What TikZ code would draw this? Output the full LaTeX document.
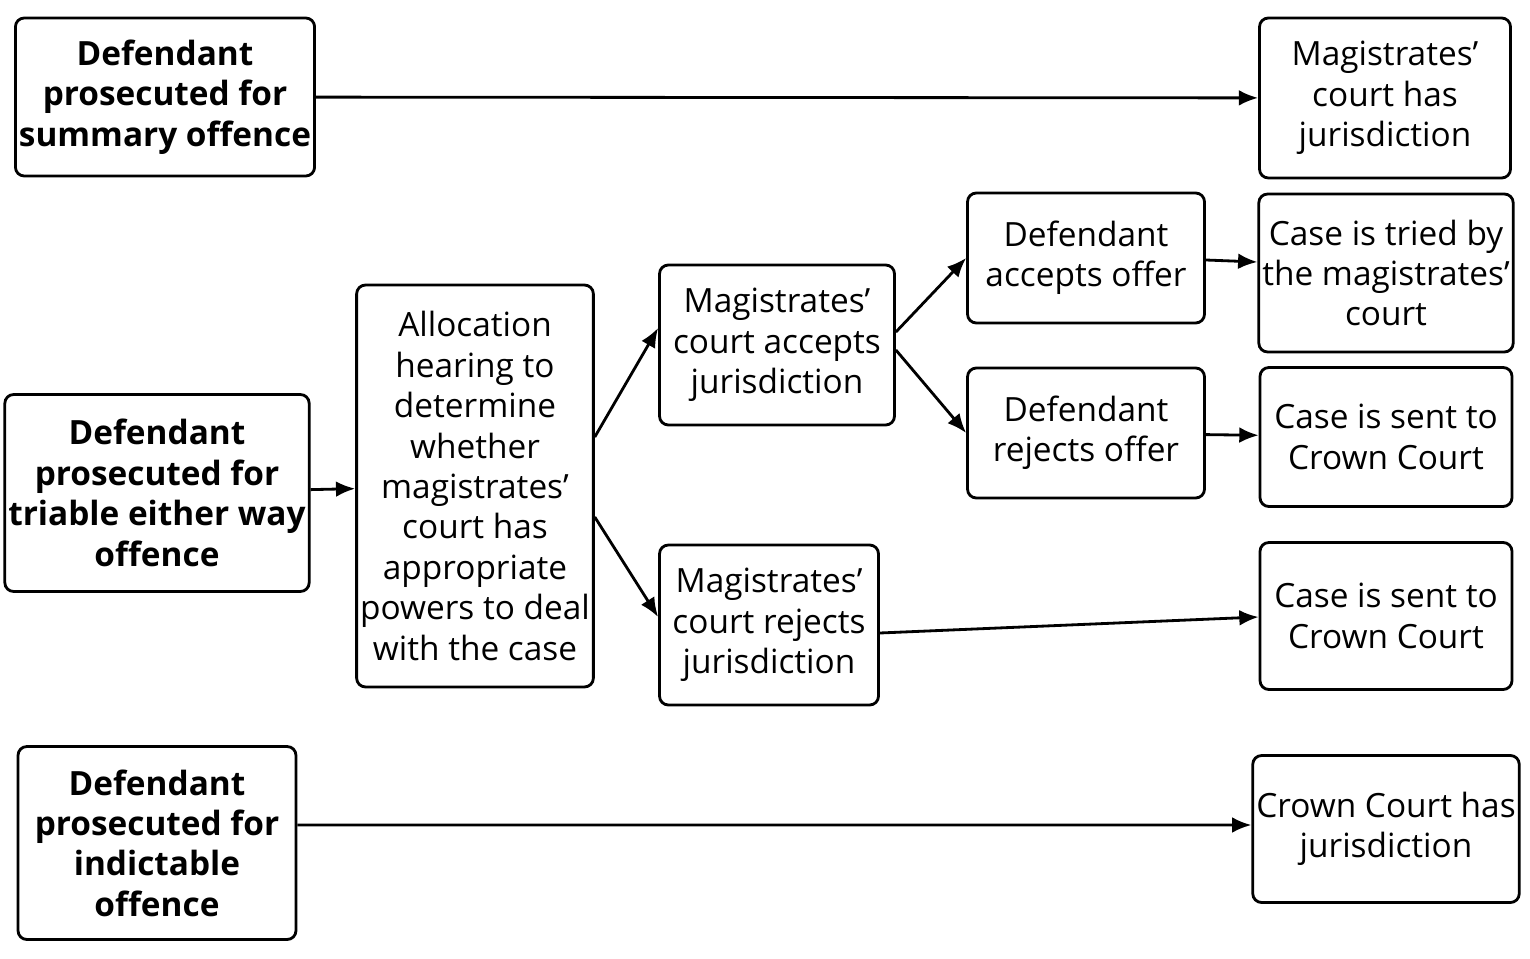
\documentclass[tikz,border=0pt]{standalone}
\usepackage{fontspec}
\setmainfont{Open Sans}
\usetikzlibrary{arrows.meta}
\tikzset{
  stagebox/.style={draw, line width=1.6pt, rounded corners=5pt, align=center,
    font=\fontsize{19}{23}\selectfont, inner sep=2pt},
  startbox/.style={stagebox, font=\fontsize{19}{23}\selectfont\bfseries},
  flow/.style={-{Latex[length=11pt,width=9pt]}, line width=1.6pt}
}
\begin{document}
\begin{tikzpicture}[x=0.02cm, y=-0.02cm]
  \useasboundingbox (0,0) rectangle (1530,959);
  % left column
  \node (summ) at (165,97) [startbox, minimum width=5.88cm, minimum height=3.16cm] {Defendant\\prosecuted for\\summary offence};
  \node (either) at (157,493) [startbox, minimum width=5.56cm, minimum height=3.94cm] {Defendant\\prosecuted for\\triable either way\\offence};
  \node (indict) at (157,843) [startbox, minimum width=5.56cm, minimum height=3.86cm] {Defendant\\prosecuted for\\indictable\\offence};
  % middle
  \node (alloc) at (475,486) [stagebox, minimum width=4.64cm, minimum height=8.04cm] {Allocation\\hearing to\\determine\\whether\\magistrates’\\court has\\appropriate\\powers to deal\\with the case};
  \node (accept) at (777,345) [stagebox, minimum width=4.7cm, minimum height=3.2cm] {Magistrates’\\court accepts\\jurisdiction};
  \node (reject) at (769,625) [stagebox, minimum width=4.38cm, minimum height=3.2cm] {Magistrates’\\court rejects\\jurisdiction};
  \node (daccept) at (1086,258) [stagebox, minimum width=4.74cm, minimum height=2.6cm] {Defendant\\accepts offer};
  \node (dreject) at (1086,433) [stagebox, minimum width=4.74cm, minimum height=2.6cm] {Defendant\\rejects offer};
  % right column
  \node (magjur) at (1385,98) [stagebox, minimum width=5.02cm, minimum height=3.2cm] {Magistrates’\\court has\\jurisdiction};
  \node (tried) at (1386,273) [stagebox, minimum width=5.04cm, minimum height=3.16cm] {Case is tried by\\the magistrates’\\court};
  \node (sent1) at (1386,437) [stagebox, minimum width=5.04cm, minimum height=2.78cm] {Case is sent to\\Crown Court};
  \node (sent2) at (1386,616) [stagebox, minimum width=5.04cm, minimum height=2.94cm] {Case is sent to\\Crown Court};
  \node (crown) at (1386,829) [stagebox, minimum width=5.04cm, minimum height=2.94cm] {Crown Court has\\jurisdiction};

  \draw[flow] (summ) -- (magjur);
  \draw[flow] (either) -- (alloc);
  \draw[flow] ([yshift=0.98cm]alloc.east) -- ([yshift=0.34cm]accept.west);
  \draw[flow] ([yshift=-0.62cm]alloc.east) -- ([yshift=0.16cm]reject.west);
  \draw[flow] ([yshift=0.26cm]accept.east) -- (daccept.west);
  \draw[flow] ([yshift=-0.1cm]accept.east) -- (dreject.west);
  \draw[flow] ([yshift=-0.04cm]daccept.east) -- ([yshift=0.22cm]tried.west);
  \draw[flow] (dreject) -- (sent1);
  \draw[flow] ([yshift=-0.16cm]reject.east) -- ([yshift=-0.02cm]sent2.west);
  \draw[flow] ([yshift=0.36cm]indict.east) -- ([yshift=0.08cm]crown.west);
\end{tikzpicture}
\end{document}
